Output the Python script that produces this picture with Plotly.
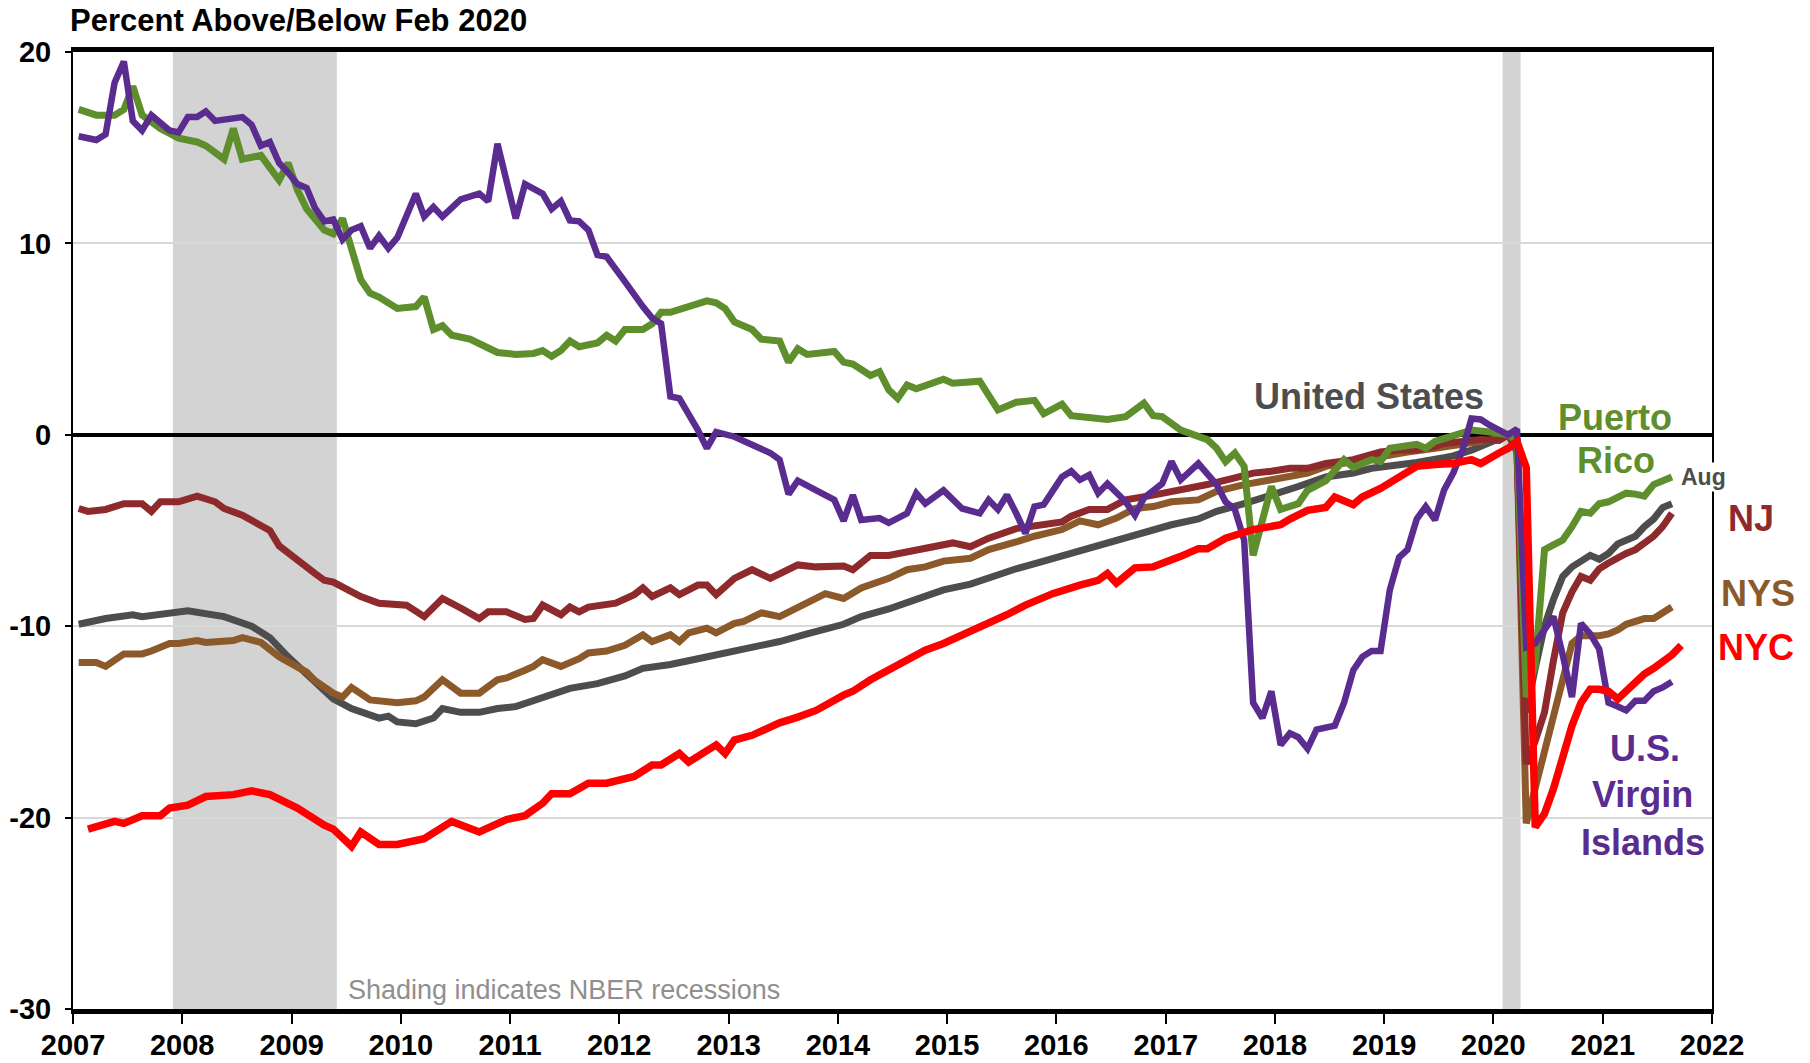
"""Employment vs Feb 2020: US, NYS, NJ, NYC, Puerto Rico, USVI."""
import pandas as pd
import plotly.graph_objects as go

FONT = "Liberation Sans, Arial, sans-serif"

C_US = "#4d4d4d"
C_NYS = "#8c5a2a"
C_NJ = "#8e2a2c"
C_NYC = "#ff0000"
C_PR = "#5e8f2c"
C_VI = "#5b2c8f"

# --- United States
us_months = [
    "2007-01", "2007-04", "2007-07", "2007-08", "2008-01", "2008-03", "2008-05", "2008-08",
    "2008-10", "2008-12", "2009-03", "2009-05", "2009-07", "2009-10", "2009-11", "2009-12",
    "2010-02", "2010-04", "2010-05", "2010-07", "2010-09", "2010-11", "2011-01", "2011-04",
    "2011-07", "2011-10", "2012-01", "2012-03", "2012-06", "2012-09", "2012-11", "2013-02",
    "2013-06", "2013-09", "2014-01", "2014-03", "2014-06", "2014-09", "2014-12", "2015-03",
    "2015-06", "2015-08", "2015-11", "2016-02", "2016-05", "2016-07", "2016-10", "2017-01",
    "2017-04", "2017-06", "2017-09", "2017-12", "2018-03", "2018-06", "2018-09", "2018-11",
    "2019-02", "2019-04", "2019-07", "2019-08", "2019-10", "2019-12", "2020-01", "2020-02",
    "2020-03", "2020-04", "2020-05", "2020-06", "2020-07", "2020-08", "2020-09", "2020-10",
    "2020-11", "2020-12", "2021-01", "2021-02", "2021-03", "2021-04", "2021-05", "2021-06",
    "2021-07", "2021-08",
]
us_vals = [
    -9.9, -9.6, -9.4, -9.5, -9.2, -9.35, -9.5, -10.0,
    -10.6, -11.6, -12.85, -13.8, -14.3, -14.8, -14.7, -15.0,
    -15.1, -14.8, -14.3, -14.5, -14.5, -14.3, -14.2, -13.7,
    -13.25, -13.0, -12.6, -12.2, -12.0, -11.7, -11.5, -11.2,
    -10.8, -10.4, -9.9, -9.5, -9.1, -8.6, -8.1, -7.8,
    -7.3, -7.0, -6.6, -6.2, -5.75, -5.5, -5.1, -4.7,
    -4.4, -4.0, -3.6, -3.1, -2.7, -2.2, -2.0, -1.75,
    -1.6, -1.45, -1.2, -1.1, -0.8, -0.45, -0.25, 0.0,
    -0.9, -14.5, -12.2, -10.0, -8.6, -7.4, -6.9, -6.6,
    -6.3, -6.5, -6.2, -5.7, -5.5, -5.3, -4.8, -4.4,
    -3.8, -3.6,
]

# --- New York State
nys_months = [
    "2007-01", "2007-03", "2007-04", "2007-06", "2007-08", "2007-09", "2007-11", "2007-12",
    "2008-02", "2008-03", "2008-06", "2008-07", "2008-09", "2008-11", "2009-02", "2009-03",
    "2009-05", "2009-06", "2009-07", "2009-09", "2009-12", "2010-02", "2010-03", "2010-05",
    "2010-07", "2010-09", "2010-11", "2010-12", "2011-02", "2011-03", "2011-04", "2011-06",
    "2011-08", "2011-09", "2011-11", "2012-01", "2012-03", "2012-04", "2012-06", "2012-07",
    "2012-08", "2012-10", "2012-11", "2013-01", "2013-02", "2013-04", "2013-06", "2013-08",
    "2013-11", "2014-01", "2014-03", "2014-06", "2014-08", "2014-10", "2014-12", "2015-03",
    "2015-05", "2015-08", "2015-10", "2016-01", "2016-03", "2016-05", "2016-07", "2016-09",
    "2016-11", "2017-01", "2017-04", "2017-06", "2017-09", "2017-12", "2018-02", "2018-04",
    "2018-06", "2018-09", "2018-12", "2019-03", "2019-06", "2019-09", "2019-12", "2020-01",
    "2020-02", "2020-03", "2020-04", "2020-05", "2020-06", "2020-07", "2020-08", "2020-09",
    "2020-10", "2020-11", "2020-12", "2021-01", "2021-02", "2021-03", "2021-04", "2021-05",
    "2021-06", "2021-07", "2021-08",
]
nys_vals = [
    -11.9, -11.9, -12.1, -11.45, -11.45, -11.3, -10.9, -10.9,
    -10.75, -10.85, -10.75, -10.6, -10.85, -11.6, -12.4, -12.85,
    -13.5, -13.7, -13.2, -13.85, -14.0, -13.9, -13.7, -12.8,
    -13.5, -13.5, -12.8, -12.7, -12.3, -12.1, -11.75, -12.1,
    -11.7, -11.4, -11.3, -11.0, -10.45, -10.8, -10.45, -10.8,
    -10.35, -10.1, -10.35, -9.85, -9.75, -9.3, -9.5, -9.05,
    -8.3, -8.55, -8.0, -7.5, -7.05, -6.9, -6.6, -6.45,
    -6.0, -5.6, -5.3, -4.95, -4.5, -4.7, -4.35, -3.85,
    -3.75, -3.5, -3.4, -2.95, -2.6, -2.35, -2.2, -2.0,
    -1.65, -1.4, -1.1, -0.9, -0.7, -0.5, -0.3, -0.2,
    0.0, -0.6, -20.3, -18.4, -16.5, -14.6, -12.7, -10.9,
    -10.5, -10.5, -10.5, -10.4, -10.2, -9.9, -9.7, -9.6,
    -9.6, -9.3, -9.0,
]

# --- New Jersey
nj_months = [
    "2007-01", "2007-02", "2007-04", "2007-06", "2007-08", "2007-09", "2007-10", "2007-12",
    "2008-02", "2008-03", "2008-04", "2008-05", "2008-07", "2008-10", "2008-11", "2009-03",
    "2009-04", "2009-05", "2009-08", "2009-10", "2010-01", "2010-03", "2010-05", "2010-07",
    "2010-09", "2010-10", "2010-12", "2011-02", "2011-03", "2011-04", "2011-06", "2011-07",
    "2011-08", "2011-09", "2011-12", "2012-02", "2012-03", "2012-04", "2012-06", "2012-07",
    "2012-09", "2012-10", "2012-11", "2013-01", "2013-03", "2013-05", "2013-07", "2013-08",
    "2013-10", "2014-01", "2014-02", "2014-04", "2014-06", "2014-10", "2015-01", "2015-03",
    "2015-05", "2015-08", "2016-01", "2016-02", "2016-04", "2016-06", "2016-08", "2016-11",
    "2017-02", "2017-05", "2017-08", "2017-10", "2017-12", "2018-02", "2018-04", "2018-06",
    "2018-09", "2018-11", "2018-12", "2019-02", "2019-04", "2019-06", "2019-07", "2019-09",
    "2019-11", "2020-01", "2020-02", "2020-03", "2020-04", "2020-05", "2020-06", "2020-07",
    "2020-08", "2020-09", "2020-10", "2020-11", "2020-12", "2021-01", "2021-02", "2021-03",
    "2021-04", "2021-05", "2021-06", "2021-07", "2021-08",
]
nj_vals = [
    -3.85, -4.0, -3.9, -3.6, -3.6, -4.0, -3.5, -3.5,
    -3.2, -3.3, -3.5, -3.85, -4.2, -5.0, -5.8, -7.25,
    -7.6, -7.7, -8.45, -8.8, -8.9, -9.5, -8.55, -9.05,
    -9.6, -9.25, -9.25, -9.65, -9.6, -8.9, -9.4, -9.0,
    -9.25, -9.0, -8.8, -8.35, -8.0, -8.45, -8.0, -8.35,
    -7.85, -7.85, -8.35, -7.5, -7.05, -7.5, -7.05, -6.8,
    -6.9, -6.85, -7.05, -6.3, -6.3, -5.95, -5.65, -5.85,
    -5.4, -4.9, -4.55, -4.25, -3.9, -3.9, -3.4, -3.15,
    -2.9, -2.6, -2.25, -2.0, -1.9, -1.75, -1.75, -1.5,
    -1.3, -1.05, -0.9, -0.8, -0.8, -0.6, -0.45, -0.35,
    -0.25, -0.3, 0.0, -0.6, -17.2, -16.0, -14.5, -11.8,
    -9.3, -8.2, -7.4, -7.6, -7.0, -6.7, -6.4, -6.2,
    -6.0, -5.7, -5.3, -4.8, -4.1,
]

# --- New York City
nyc_months = [
    "2007-02", "2007-04", "2007-05", "2007-06", "2007-08", "2007-10", "2007-11", "2008-01",
    "2008-03", "2008-06", "2008-08", "2008-10", "2009-01", "2009-04", "2009-05", "2009-07",
    "2009-08", "2009-10", "2009-12", "2010-03", "2010-06", "2010-09", "2010-12", "2011-02",
    "2011-04", "2011-05", "2011-07", "2011-09", "2011-11", "2012-02", "2012-04", "2012-05",
    "2012-07", "2012-08", "2012-11", "2012-12", "2013-01", "2013-03", "2013-06", "2013-08",
    "2013-10", "2014-01", "2014-02", "2014-04", "2014-06", "2014-08", "2014-10", "2014-12",
    "2015-03", "2015-05", "2015-07", "2015-09", "2015-12", "2016-03", "2016-05", "2016-06",
    "2016-07", "2016-09", "2016-11", "2017-02", "2017-04", "2017-05", "2017-07", "2017-10",
    "2018-01", "2018-02", "2018-04", "2018-06", "2018-07", "2018-09", "2018-10", "2018-12",
    "2019-01", "2019-03", "2019-04", "2019-06", "2019-08", "2019-10", "2019-11", "2020-01",
    "2020-02", "2020-03", "2020-04", "2020-05", "2020-06", "2020-07", "2020-08", "2020-09",
    "2020-10", "2020-11", "2020-12", "2021-01", "2021-02", "2021-03", "2021-04", "2021-05",
    "2021-06", "2021-07", "2021-08", "2021-09",
]
nyc_vals = [
    -20.6, -20.4, -20.2, -20.3, -19.9, -19.9, -19.5, -19.35,
    -18.9, -18.8, -18.6, -18.8, -19.5, -20.4, -20.6, -21.5,
    -20.75, -21.4, -21.4, -21.1, -20.2, -20.75, -20.1, -19.9,
    -19.25, -18.75, -18.75, -18.2, -18.2, -17.85, -17.25, -17.25,
    -16.65, -17.1, -16.2, -16.65, -15.95, -15.7, -15.05, -14.75,
    -14.4, -13.6, -13.4, -12.8, -12.3, -11.75, -11.25, -10.9,
    -10.3, -9.85, -9.4, -8.9, -8.3, -7.85, -7.6, -7.25,
    -7.75, -6.95, -6.9, -6.35, -5.95, -5.95, -5.4, -4.95,
    -4.7, -4.4, -3.95, -3.8, -3.25, -3.65, -3.25, -2.8,
    -2.5, -1.9, -1.65, -1.55, -1.5, -1.3, -1.5, -0.95,
    -0.7, -0.35, -1.7, -20.5, -19.8, -18.5, -16.8, -15.2,
    -14.0, -13.3, -13.3, -13.4, -13.8, -13.4, -12.9, -12.5,
    -12.2, -11.9, -11.5, -11.0,
]

# --- Puerto Rico
pr_months = [
    "2007-01", "2007-03", "2007-05", "2007-06", "2007-07", "2007-08", "2007-10", "2007-12",
    "2008-02", "2008-03", "2008-05", "2008-06", "2008-07", "2008-09", "2008-11", "2008-12",
    "2009-01", "2009-02", "2009-04", "2009-05", "2009-06", "2009-07", "2009-08", "2009-09",
    "2009-10", "2009-12", "2010-02", "2010-03", "2010-04", "2010-05", "2010-06", "2010-08",
    "2010-11", "2011-01", "2011-03", "2011-04", "2011-05", "2011-06", "2011-07", "2011-08",
    "2011-10", "2011-11", "2011-12", "2012-01", "2012-03", "2012-04", "2012-05", "2012-06",
    "2012-08", "2012-10", "2012-11", "2012-12", "2013-01", "2013-03", "2013-04", "2013-06",
    "2013-07", "2013-08", "2013-09", "2013-12", "2014-01", "2014-02", "2014-04", "2014-05",
    "2014-06", "2014-07", "2014-08", "2014-09", "2014-12", "2015-01", "2015-04", "2015-06",
    "2015-08", "2015-10", "2015-11", "2016-01", "2016-02", "2016-06", "2016-08", "2016-10",
    "2016-11", "2016-12", "2017-02", "2017-04", "2017-05", "2017-06", "2017-07", "2017-08",
    "2017-09", "2017-10", "2017-12", "2018-01", "2018-03", "2018-04", "2018-06", "2018-08",
    "2018-09", "2018-11", "2018-12", "2019-01", "2019-03", "2019-04", "2019-05", "2019-06",
    "2019-07", "2019-09", "2019-10", "2019-12", "2020-02", "2020-03", "2020-04", "2020-05",
    "2020-06", "2020-07", "2020-08", "2020-09", "2020-10", "2020-11", "2020-12", "2021-01",
    "2021-02", "2021-03", "2021-04", "2021-05", "2021-06", "2021-07", "2021-08",
]
pr_vals = [
    17.0, 16.7, 16.7, 17.0, 18.2, 16.7, 16.0, 15.5,
    15.3, 15.1, 14.4, 16.0, 14.4, 14.6, 13.3, 14.2,
    12.8, 11.8, 10.7, 10.5, 11.3, 9.7, 8.1, 7.4,
    7.2, 6.6, 6.7, 7.2, 5.5, 5.7, 5.2, 5.0,
    4.3, 4.2, 4.25, 4.4, 4.1, 4.4, 4.9, 4.6,
    4.8, 5.2, 4.9, 5.5, 5.5, 5.8, 6.4, 6.4,
    6.7, 7.0, 6.9, 6.6, 5.9, 5.5, 5.0, 4.9,
    3.8, 4.5, 4.2, 4.35, 3.8, 3.7, 3.1, 3.3,
    2.35, 1.9, 2.6, 2.4, 2.9, 2.7, 2.8, 1.3,
    1.7, 1.8, 1.1, 1.6, 1.0, 0.8, 0.95, 1.65,
    1.0, 0.95, 0.25, -0.1, -0.25, -0.7, -1.4, -0.95,
    -1.65, -6.3, -2.7, -3.9, -3.6, -2.9, -2.4, -1.3,
    -1.7, -1.3, -1.4, -0.7, -0.6, -0.5, -0.7, -0.35,
    -0.2, 0.15, 0.25, 0.15, 0.0, -0.3, -13.7, -12.0,
    -6.0, -5.75, -5.5, -4.8, -4.0, -4.1, -3.6, -3.5,
    -3.3, -3.05, -3.1, -3.2, -2.6, -2.4, -2.2,
]

# --- U.S. Virgin Islands
vi_months = [
    "2007-01", "2007-03", "2007-04", "2007-05", "2007-06", "2007-07", "2007-08", "2007-09",
    "2007-10", "2007-11", "2007-12", "2008-01", "2008-02", "2008-03", "2008-04", "2008-06",
    "2008-07", "2008-08", "2008-09", "2008-10", "2008-11", "2008-12", "2009-01", "2009-02",
    "2009-03", "2009-04", "2009-05", "2009-06", "2009-07", "2009-08", "2009-09", "2009-10",
    "2009-11", "2009-12", "2010-02", "2010-03", "2010-04", "2010-05", "2010-07", "2010-09",
    "2010-10", "2010-11", "2011-01", "2011-02", "2011-04", "2011-05", "2011-06", "2011-07",
    "2011-08", "2011-09", "2011-10", "2011-11", "2011-12", "2012-01", "2012-03", "2012-04",
    "2012-05", "2012-06", "2012-07", "2012-08", "2012-09", "2012-10", "2012-11", "2013-01",
    "2013-03", "2013-05", "2013-06", "2013-07", "2013-08", "2013-10", "2013-12", "2014-01",
    "2014-02", "2014-03", "2014-05", "2014-06", "2014-08", "2014-09", "2014-10", "2014-12",
    "2015-02", "2015-04", "2015-05", "2015-06", "2015-07", "2015-08", "2015-09", "2015-10",
    "2015-11", "2016-01", "2016-02", "2016-03", "2016-04", "2016-05", "2016-06", "2016-08",
    "2016-09", "2016-10", "2016-12", "2017-01", "2017-02", "2017-04", "2017-05", "2017-06",
    "2017-07", "2017-08", "2017-09", "2017-10", "2017-11", "2017-12", "2018-01", "2018-02",
    "2018-03", "2018-04", "2018-05", "2018-06", "2018-07", "2018-08", "2018-09", "2018-10",
    "2018-11", "2018-12", "2019-01", "2019-02", "2019-03", "2019-04", "2019-05", "2019-06",
    "2019-07", "2019-08", "2019-09", "2019-10", "2019-11", "2019-12", "2020-01", "2020-02",
    "2020-03", "2020-04", "2020-05", "2020-06", "2020-07", "2020-08", "2020-09", "2020-10",
    "2020-11", "2020-12", "2021-01", "2021-02", "2021-03", "2021-04", "2021-05", "2021-06",
    "2021-07", "2021-08",
]
vi_vals = [
    15.6, 15.4, 15.7, 18.4, 19.5, 16.4, 15.9, 16.7,
    16.3, 15.9, 15.8, 16.6, 16.6, 16.9, 16.4, 16.5,
    16.6, 16.2, 15.1, 15.3, 14.2, 13.7, 13.1, 12.9,
    11.85, 11.15, 11.25, 10.2, 10.7, 10.9, 9.75, 10.4,
    9.75, 10.3, 12.6, 11.4, 11.9, 11.4, 12.3, 12.6,
    12.2, 15.2, 11.3, 13.1, 12.6, 11.8, 12.2, 11.2,
    11.15, 10.7, 9.4, 9.3, 8.6, 8.0, 6.7, 6.1,
    5.8, 2.0, 1.9, 1.1, 0.25, -0.7, 0.15, -0.1,
    -0.5, -0.95, -1.3, -3.1, -2.4, -2.9, -3.4, -4.5,
    -3.15, -4.45, -4.35, -4.6, -4.1, -3.05, -3.6, -2.9,
    -3.85, -4.1, -3.4, -3.9, -3.15, -4.1, -5.15, -3.75,
    -3.65, -2.2, -1.9, -2.35, -2.1, -3.05, -2.55, -3.5,
    -4.2, -3.3, -2.55, -1.4, -2.35, -1.5, -2.1, -2.6,
    -3.5, -3.9, -5.5, -14.0, -14.8, -13.4, -16.2, -15.6,
    -15.8, -16.4, -15.4, -15.3, -15.2, -14.0, -12.3, -11.6,
    -11.3, -11.3, -8.1, -6.4, -6.0, -4.4, -3.75, -4.45,
    -2.9, -2.0, -0.8, 0.85, 0.8, 0.5, 0.25, 0.0,
    0.3, -11.1, -10.9, -10.2, -9.5, -11.5, -13.7, -9.85,
    -10.4, -11.2, -14.0, -14.2, -14.4, -13.9, -13.9, -13.4,
    -13.2, -12.9,
]

recessions = [("2007-12-01", "2009-06-01"), ("2020-02-01", "2020-04-01")]
y_ticks = [-30, -20, -10, 0, 10, 20]
y_tick_text = ["-30", "-20", "-10", "0", "10", "20"]


def month_x(months):
    # monthly observations sit late in their month on the date axis
    return pd.to_datetime(months, format="%Y-%m") + pd.Timedelta(days=19)


series = [
    (us_months, us_vals, C_US, 7),
    (nys_months, nys_vals, C_NYS, 7),
    (nj_months, nj_vals, C_NJ, 7),
    (pr_months, pr_vals, C_PR, 7),
    (vi_months, vi_vals, C_VI, 6.5),
    (nyc_months, nyc_vals, C_NYC, 7.5),
]

fig = go.Figure()
for months, vals, color, width in series:
    fig.add_trace(go.Scatter(
        x=month_x(months), y=vals, mode="lines",
        line=dict(color=color, width=width), hoverinfo="skip",
    ))

for x0, x1 in recessions:
    fig.add_shape(type="rect", xref="x", yref="paper", x0=x0, x1=x1, y0=0, y1=1,
                  fillcolor="#d3d3d3", line=dict(width=0), layer="below")


def label(text, x, y, color, size=36, xref="x", bg=None):
    fig.add_annotation(text=f"<b>{text}</b>", x=x, y=y, xref=xref, yref="y",
                       showarrow=False, xanchor="center", yanchor="middle",
                       font=dict(family=FONT, size=size, color=color),
                       bgcolor=bg, borderpad=1)


label("United States", "2018-11-13", 2.0, C_US)
label("Puerto", "2021-02-10", 0.9, C_PR)
label("Rico", "2021-02-14", -1.35, C_PR)
label("Aug", "2021-12-05", -2.2, C_US, size=23, bg="white")
label("NJ", 1.024, -4.35, C_NJ, xref="paper")
label("NYS", 1.028, -8.3, C_NYS, xref="paper")
label("NYC", 1.027, -11.1, C_NYC, xref="paper")
label("U.S.", "2021-05-22", -16.4, C_VI)
label("Virgin", "2021-05-15", -18.8, C_VI)
label("Islands", "2021-05-15", -21.3, C_VI)

fig.add_annotation(text="Shading indicates NBER recessions", x=0.2998, y=-29.0,
                   xref="paper", yref="y", xanchor="center", yanchor="middle",
                   showarrow=False, font=dict(family=FONT, size=27, color="#8f8f8f"))
fig.add_annotation(text="<b>Percent Above/Below Feb 2020</b>", x=-0.003, y=1.033,
                   xref="paper", yref="paper", xanchor="left", yanchor="middle",
                   showarrow=False, font=dict(family=FONT, size=31, color="black"))

tick_font = dict(family=FONT, size=29, color="black", weight="bold")
fig.update_xaxes(
    type="date", range=["2007-01-01", "2022-01-01"],
    dtick="M12", tick0="2007-01-01", tickformat="%Y",
    showgrid=False, ticks="outside", ticklen=10, tickwidth=2, tickcolor="black",
    showline=True, linecolor="black", linewidth=5, mirror=True,
    tickfont=tick_font, ticklabelstandoff=-4, automargin=False,
)
fig.update_yaxes(
    range=[-30, 20], tickvals=y_ticks, ticktext=y_tick_text,
    showgrid=True, gridcolor="#d9d9d9", gridwidth=2,
    zeroline=True, zerolinecolor="black", zerolinewidth=4,
    ticks="outside", ticklen=6, tickwidth=2, tickcolor="black",
    showline=True, linecolor="black", linewidth=2, mirror=True,
    tickfont=tick_font, ticklabelstandoff=8, automargin=False,
)
fig.update_layout(
    width=1810, height=1063,
    margin=dict(l=73, r=98, t=52, b=54),
    plot_bgcolor="white", paper_bgcolor="white",
    showlegend=False,
)

fig.write_html("out.html", config={"displayModeBar": False},
               post_script="document.body.style.margin='0';")
